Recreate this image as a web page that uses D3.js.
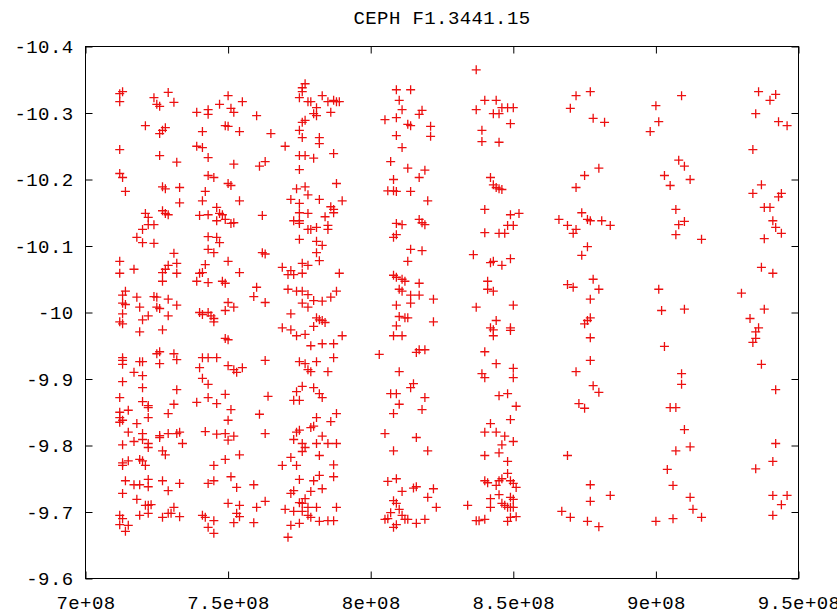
<!DOCTYPE html>
<html>
<head>
<meta charset="utf-8">
<script src="https://cdn.jsdelivr.net/npm/d3@7"></script>
<style>
  body { margin: 0; background: #fff; }
  svg { display: block; }
  text { font-family: "Liberation Mono", "DejaVu Sans Mono", monospace; font-size: 19px; letter-spacing: 0.4px; fill: #000; }
</style>
</head>
<body>
<svg id="chart" width="837" height="615"></svg>
<script>
const title = "CEPH F1.3441.15";

const xTicks = [7e8, 7.5e8, 8e8, 8.5e8, 9e8, 9.5e8];
const xTickLabels = ["7e+08", "7.5e+08", "8e+08", "8.5e+08", "9e+08", "9.5e+08"];
const yTicks = [-10.4, -10.3, -10.2, -10.1, -10, -9.9, -9.8, -9.7, -9.6];
const yTickLabels = ["-10.4", "-10.3", "-10.2", "-10.1", "-10", "-9.9", "-9.8", "-9.7", "-9.6"];

// Measurements as [position (millions), value], one array per position band
const bandA = [
  [713,-10.332],[712,-10.329],[712,-10.317],[712,-10.245],[712,-10.209],[713,-10.203],[714,-10.182],
  [724,-10.323],[729,-10.331],[725,-10.313],[726,-10.310],[731,-10.316],[721,-10.281],[728,-10.278],[727,-10.274],[726,-10.269],[726,-10.236],[732,-10.226],[727,-10.189],[728,-10.186],[733,-10.188],[733,-10.165],[727,-10.153],[728,-10.149],[729,-10.147],[721,-10.149],[722,-10.143],
  [722,-10.132],[724,-10.132],[720,-10.125],[718,-10.113],[720,-10.105],[724,-10.104],[712,-10.077],[712,-10.059],[717,-10.065],[731,-10.089],[732,-10.074],[729,-10.071],[728,-10.065],[727,-10.060],[732,-10.059],[727,-10.047],
  [714,-10.032],[713,-10.026],[718,-10.023],[713,-10.014],[714,-10.012],[719,-10.008],[713,-9.998],[722,-9.995],[720,-9.989],[712,-9.986],[713,-9.983],[719,-9.971],[724,-10.024],[725,-10.023],[725,-10.008],[726,-10.006],[729,-10.020],[732,-10.011],[729,-9.995],[727,-9.974],
  [713,-9.932],[713,-9.928],[713,-9.922],[719,-9.926],[720,-9.926],[717,-9.910],[720,-9.905],[725,-9.938],[726,-9.941],[726,-9.923],[731,-9.938],[732,-9.929],[713,-9.896],[720,-9.887],[732,-9.884],[712,-9.872],[720,-9.866],[722,-9.860],[731,-9.862],
  [712,-9.850],[715,-9.853],[712,-9.842],[713,-9.838],[712,-9.835],[722,-9.857],[718,-9.833],[722,-9.842],[715,-9.820],[720,-9.818],[720,-9.809],[717,-9.806],[722,-9.803],[713,-9.801],[722,-9.797],[713,-9.774],[715,-9.777],[713,-9.770],[719,-9.779],[720,-9.777],[721,-9.770],[714,-9.747],[717,-9.741],[719,-9.741],[722,-9.749],[722,-9.738],[713,-9.728],[718,-9.719],[721,-9.710],[722,-9.710],[723,-9.711],[719,-9.695],[722,-9.698],[712,-9.695],[713,-9.690],[712,-9.681],[715,-9.680],[714,-9.671],
  [729,-9.848],[726,-9.812],[726,-9.815],[729,-9.818],[732,-9.818],[733,-9.820],[734,-9.803],[727,-9.792],[728,-9.786],[727,-9.747],[729,-9.732],[733,-9.743],[727,-9.692],[729,-9.698],[730,-9.698],[731,-9.707],[733,-9.693]
];

const bandB = [
  [739,-10.301],[743,-10.305],[743,-10.298],[747,-10.313],[750,-10.326],[751,-10.307],[752,-10.301],[755,-10.317],[741,-10.272],[749,-10.281],[750,-10.280],[754,-10.272],[739,-10.250],[741,-10.248],[743,-10.233],[752,-10.223],[743,-10.206],[745,-10.203],[750,-10.194],[751,-10.191],[742,-10.182],[741,-10.168],[754,-10.168],[740,-10.146],[743,-10.147],[746,-10.158],[747,-10.149],[748,-10.147],[746,-10.138],[749,-10.140],[752,-10.135],[762,-10.146],[760,-10.296],[765,-10.269],[761,-10.220],[763,-10.227],[770,-10.250],
  [743,-10.114],[746,-10.113],[747,-10.105],[743,-10.095],[745,-10.090],[751,-10.134],[762,-10.090],[763,-10.088],[742,-10.072],[741,-10.060],[740,-10.059],[739,-10.047],[743,-10.045],[750,-10.077],[754,-10.060],[748,-10.047],[749,-10.044],[760,-10.038],[759,-10.024],[763,-10.015],
  [740,-10.000],[741,-9.997],[743,-10.000],[744,-9.995],[745,-9.991],[745,-9.986],[749,-10.003],[750,-10.015],[752,-10.008],[749,-9.961],[750,-9.959],[741,-9.932],[743,-9.932],[746,-9.932],[740,-9.917],[750,-9.920],[752,-9.914],[753,-9.910],[755,-9.917],[741,-9.901],[743,-9.892],[763,-9.928],[764,-9.874],[739,-9.865],[743,-9.872],[746,-9.863],[749,-9.877],
  [751,-9.854],[750,-9.838],[742,-9.821],[746,-9.817],[749,-9.818],[752,-9.814],[750,-9.808],[754,-9.786],[749,-9.779],[745,-9.770],[743,-9.743],[745,-9.747],[751,-9.753],[753,-9.737],[750,-9.713],[754,-9.710],[753,-9.698],[754,-9.693],[752,-9.684],[741,-9.695],[742,-9.692],[745,-9.687],[743,-9.677],[745,-9.668],[761,-9.847],[763,-9.818],[759,-9.741],[763,-9.716],[760,-9.707],[759,-9.684]
];

const bandC = [
  [777,-10.344],[776,-10.338],[776,-10.332],[775,-10.323],[778,-10.317],[776,-10.286],[777,-10.289],[775,-10.274],[776,-10.263],[775,-10.236],[777,-10.236],[775,-10.215],[774,-10.186],[777,-10.189],[778,-10.177],[772,-10.170],[775,-10.164],[775,-10.150],[778,-10.149],[773,-10.138],[775,-10.138],
  [779,-10.317],[783,-10.326],[785,-10.317],[787,-10.319],[788,-10.317],[789,-10.317],[781,-10.308],[780,-10.299],[781,-10.296],[786,-10.301],[782,-10.263],[782,-10.254],[780,-10.232],[787,-10.239],[788,-10.194],[782,-10.170],[790,-10.168],[786,-10.159],[787,-10.155],[787,-10.150],[784,-10.144],
  [775,-10.134],[778,-10.125],[775,-10.110],[769,-10.068],[772,-10.063],[773,-10.057],[776,-10.074],[778,-10.071],[776,-10.059],[771,-10.057],[771,-10.035],[774,-10.032],[776,-10.032],[778,-10.027],[776,-10.014],[772,-9.998],[778,-10.008],[769,-9.977],[772,-9.974],[774,-9.965],[777,-9.967],[775,-9.926],[777,-9.923],[778,-9.914],[776,-9.889],[774,-9.881],[773,-9.868],[775,-9.868],
  [775,-9.823],[774,-9.820],[773,-9.809],[776,-9.803],[777,-9.797],[776,-9.791],[779,-9.827],[772,-9.782],[769,-9.770],[774,-9.770],[775,-9.749],[773,-9.732],[772,-9.728],[775,-9.714],[777,-9.720],[776,-9.713],[778,-9.707],[770,-9.704],[773,-9.701],[776,-9.701],[778,-9.695],[772,-9.680],[775,-9.683],[771,-9.662],
  [779,-10.125],[781,-10.128],[785,-10.131],[785,-10.125],[781,-10.107],[783,-10.101],[781,-10.090],[782,-10.078],[789,-10.059],[780,-10.018],[783,-10.017],[786,-10.023],[788,-10.032],[781,-9.992],[782,-9.989],[783,-9.988],[784,-9.985],[780,-9.979],[790,-9.965],[779,-9.950],[783,-9.953],[787,-9.953],[787,-9.932],[781,-9.926],[779,-9.911],[785,-9.911],[780,-9.887],[782,-9.878],[783,-9.872],
  [781,-9.842],[780,-9.829],[786,-9.836],[788,-9.848],[783,-9.814],[781,-9.803],[785,-9.803],[788,-9.803],[782,-9.785],[787,-9.771],[782,-9.755],[780,-9.747],[787,-9.753],[783,-9.735],[779,-9.731],[781,-9.707],[788,-9.707],[779,-9.692],[782,-9.686],[785,-9.687],[787,-9.687]
];

const bandD = [
  [809,-10.335],[814,-10.335],[810,-10.319],[811,-10.305],[805,-10.290],[809,-10.293],[813,-10.283],[814,-10.281],[817,-10.298],[818,-10.304],[821,-10.280],[821,-10.265],[809,-10.266],[811,-10.248],[807,-10.227],[813,-10.217],[819,-10.214],[817,-10.203],[808,-10.200],[806,-10.183],[808,-10.183],[809,-10.182],[814,-10.182],[820,-10.168],[817,-10.140],
  [809,-10.134],[811,-10.132],[818,-10.135],[819,-10.132],[809,-10.117],[808,-10.113],[814,-10.095],[818,-10.093],[813,-10.077],[808,-10.056],[809,-10.053],[811,-10.050],[812,-10.047],[817,-10.044],[810,-10.035],[811,-10.032],[814,-10.026],[817,-10.026],[814,-10.014],[822,-10.020],[809,-10.011],[810,-9.994],[812,-9.992],[813,-9.992],[809,-9.980],[822,-9.986],[808,-9.965],[811,-9.965],[817,-9.944],[819,-9.944],[816,-9.940],[803,-9.937],[810,-9.911],[815,-9.893],[814,-9.887],[807,-9.878],[809,-9.878],[819,-9.872],[810,-9.862],
  [808,-9.848],[818,-9.854],[805,-9.818],[816,-9.812],[808,-9.792],[820,-9.792],[806,-9.746],[809,-9.750],[816,-9.738],[815,-9.736],[822,-9.735],[811,-9.731],[820,-9.722],[808,-9.717],[809,-9.713],[823,-9.707],[810,-9.704],[807,-9.699],[811,-9.695],[805,-9.689],[806,-9.690],[812,-9.689],[813,-9.689],[816,-9.683],[819,-9.689],[809,-9.681],[808,-9.677]
];

const bandE = [
  [837,-10.365],[840,-10.319],[844,-10.319],[837,-10.305],[843,-10.299],[845,-10.299],[846,-10.308],[848,-10.308],[850,-10.308],[849,-10.284],[839,-10.274],[839,-10.257],[845,-10.256],[842,-10.203],[843,-10.192],[844,-10.188],[845,-10.186],[846,-10.185],[840,-10.155],[849,-10.147],[852,-10.149],
  [840,-10.120],[845,-10.119],[847,-10.119],[848,-10.131],[850,-10.131],[836,-10.087],[842,-10.075],[843,-10.077],[846,-10.071],[849,-10.081],[841,-10.047],[841,-10.035],[843,-10.032],[837,-10.008],[850,-10.011],[844,-9.988],[842,-9.977],[843,-9.974],[843,-9.965],[849,-9.977],[849,-9.973],[840,-9.941],[844,-9.923],[839,-9.908],[840,-9.902],[850,-9.916],[850,-9.902],[845,-9.875],[848,-9.878],[851,-9.859],
  [842,-9.833],[840,-9.820],[844,-9.820],[847,-9.814],[849,-9.839],[850,-9.806],[846,-9.801],[845,-9.789],[840,-9.785],[848,-9.776],[848,-9.758],[840,-9.747],[841,-9.744],[845,-9.747],[846,-9.750],[849,-9.747],[850,-9.743],[851,-9.737],[844,-9.740],[845,-9.726],[842,-9.720],[849,-9.722],[850,-9.719],[834,-9.710],[842,-9.707],[846,-9.713],[847,-9.710],[848,-9.707],[849,-9.707],[850,-9.707],[849,-9.692],[851,-9.693],[837,-9.687],[838,-9.687],[840,-9.689],[848,-9.686]
];

const bandF = [
  [872,-10.326],[877,-10.332],[870,-10.307],[878,-10.292],[882,-10.286],[880,-10.217],[875,-10.206],[872,-10.188],[874,-10.150],[876,-10.140],[877,-10.138],[866,-10.140],[881,-10.138],[869,-10.131],[872,-10.125],[871,-10.119],[884,-10.131],[876,-10.099],[874,-10.086],[869,-10.042],[871,-10.038],[878,-10.050],[880,-10.035],[877,-10.020],[877,-9.992],[876,-9.988],[875,-9.983],[877,-9.962],[877,-9.928],[872,-9.911],[878,-9.890],[880,-9.880],[873,-9.863],[875,-9.856],[869,-9.785],[877,-9.741],[884,-9.725],[877,-9.716],[867,-9.701],[870,-9.692],[876,-9.686],[880,-9.678]
];

const bandG = [
  [909,-10.326],[900,-10.311],[901,-10.287],[898,-10.272],[908,-10.229],[910,-10.220],[903,-10.206],[905,-10.191],[912,-10.200],[907,-10.155],[910,-10.137],[908,-10.132],[907,-10.117],[916,-10.110],[901,-10.035],[902,-10.003],[910,-10.005],[903,-9.949],[909,-9.908],[909,-9.892],[905,-9.857],[907,-9.857],[910,-9.824],[912,-9.798],[907,-9.792],[904,-9.764],[906,-9.740],[912,-9.722],[913,-9.704],[916,-9.692],[906,-9.690],[900,-9.686]
];

const bandH = [
  [936,-10.332],[942,-10.328],[940,-10.319],[935,-10.299],[943,-10.287],[946,-10.281],[934,-10.245],[937,-10.192],[934,-10.179],[943,-10.174],[944,-10.179],[938,-10.158],[940,-10.158],[941,-10.138],[942,-10.128],[944,-10.119],[938,-10.111],[937,-10.068],[941,-10.059],[930,-10.029],[938,-10.005],[933,-9.991],[936,-9.977],[935,-9.971],[935,-9.961],[934,-9.955],[937,-9.922],[942,-9.884],[942,-9.803],[941,-9.776],[935,-9.765],[941,-9.725],[946,-9.725],[944,-9.711],[941,-9.695]
];

const points = [].concat(bandA, bandB, bandC, bandD, bandE, bandF, bandG, bandH)
  .map(([pos, value]) => ({ x: pos * 1e6, y: value }));

const svg = d3.select("#chart");
const plotLeft = 85.5, plotRight = 798.5, plotTop = 46.5, plotBottom = 578.5;

const x = d3.scaleLinear().domain([7e8, 9.5e8]).range([plotLeft, plotRight]);
const y = d3.scaleLinear().domain([-10.4, -9.6]).range([plotTop, plotBottom]);

// title
svg.append("text")
  .attr("x", 442).attr("y", 24)
  .attr("text-anchor", "middle")
  .text(title);

// axes with inward ticks on all four sides
const tickLen = 7;
const styleAxis = g => {
  g.select(".domain").remove();
  g.selectAll(".tick line").attr("stroke", "#000").attr("stroke-width", 1);
};

svg.append("g")
  .attr("transform", `translate(0,${plotBottom})`)
  .call(d3.axisBottom(x).tickValues(xTicks).tickFormat((d, i) => xTickLabels[i]).tickSize(-tickLen).tickPadding(17))
  .call(styleAxis);

svg.append("g")
  .attr("transform", `translate(0,${plotTop})`)
  .call(d3.axisTop(x).tickValues(xTicks).tickFormat("").tickSize(-tickLen))
  .call(styleAxis);

svg.append("g")
  .attr("transform", `translate(${plotLeft},0)`)
  .call(d3.axisLeft(y).tickValues(yTicks).tickFormat((d, i) => yTickLabels[i]).tickSize(-tickLen).tickPadding(12))
  .call(styleAxis);

svg.append("g")
  .attr("transform", `translate(${plotRight},0)`)
  .call(d3.axisRight(y).tickValues(yTicks).tickFormat("").tickSize(-tickLen))
  .call(styleAxis);

// plot frame
svg.append("rect")
  .attr("x", plotLeft).attr("y", plotTop)
  .attr("width", plotRight - plotLeft).attr("height", plotBottom - plotTop)
  .attr("fill", "none").attr("stroke", "#000").attr("stroke-width", 1);

// plus markers
svg.append("g")
  .selectAll("path")
  .data(points)
  .join("path")
  .attr("transform", d => `translate(${x(d.x)},${y(d.y)})`)
  .attr("d", "M-4.5,0H4.5M0,-4.5V4.5")
  .attr("fill", "none")
  .attr("stroke", "#ec1010")
  .attr("stroke-width", 1.3);
</script>
</body>
</html>
